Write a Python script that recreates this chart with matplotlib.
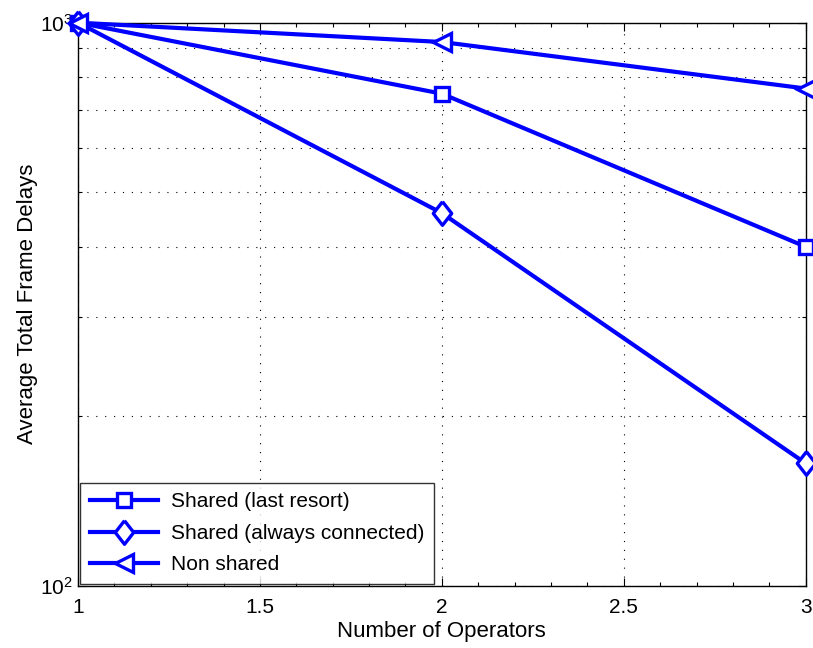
import matplotlib
matplotlib.use('Agg')
import matplotlib.pyplot as plt
from matplotlib.ticker import LogLocator, NullFormatter, MultipleLocator, FormatStrFormatter

plt.rcParams['font.family'] = ['Liberation Sans', 'DejaVu Sans']

operators = [1, 2, 3]
last_resort = [1000, 748, 400]
always_connected = [1000, 459, 165]
non_shared = [1000, 924, 764]

fig = plt.figure(figsize=(8.13, 6.48), dpi=100)
ax = fig.add_axes([0.096, 0.096, 0.895, 0.869])

blue = '#0000ff'
# diamond a bit taller than wide, like the MATLAB one
diamond = [(0, 1), (0.78, 0), (0, -1), (-0.78, 0), (0, 1)]
style = dict(color=blue, lw=3, markersize=10, markeredgewidth=2.4,
             markerfacecolor='white', markeredgecolor=blue, clip_on=False, zorder=3)
ax.plot(operators, last_resort, marker='s', label='Shared (last resort)', **style)
ax.plot(operators, always_connected, marker=diamond, label='Shared (always connected)',
        **dict(style, markersize=17))
ax.plot(operators, non_shared, marker='<', label='Non shared', **dict(style, markersize=13))

ax.set_yscale('log')
ax.set_xlim(1, 3)
ax.set_ylim(100, 1000)
ax.xaxis.set_major_locator(MultipleLocator(0.5))
ax.xaxis.set_minor_locator(MultipleLocator(0.1))
ax.xaxis.set_major_formatter(FormatStrFormatter('%g'))
ax.yaxis.set_major_locator(LogLocator(base=10))
ax.yaxis.set_minor_locator(LogLocator(base=10, subs=range(2, 10)))
ax.yaxis.set_minor_formatter(NullFormatter())

ax.grid(True, which='major', axis='x', color='black', linestyle=(0, (1, 7)), lw=0.8)
ax.grid(True, which='both', axis='y', color='black', linestyle=(0, (1, 7)), lw=0.8)

ax.tick_params(which='both', direction='in', top=True, right=True, labelsize=15, width=0.8)
ax.tick_params(which='major', length=6)
ax.tick_params(axis='x', which='major', pad=9)
ax.tick_params(which='minor', length=3)
for s in ax.spines.values():
    s.set_linewidth(1.0)

ax.set_xlabel('Number of Operators', fontsize=16, labelpad=3)
ax.set_ylabel('Average Total Frame Delays', fontsize=16, labelpad=2)

leg = ax.legend(loc='lower left', fontsize=15, frameon=True, fancybox=False,
                edgecolor='black', borderaxespad=0.1, handlelength=3.3,
                borderpad=0.45, labelspacing=0.6, handletextpad=0.6)
leg.get_frame().set_linewidth(1.0)

plt.savefig('out.png', dpi=100, facecolor='white')
